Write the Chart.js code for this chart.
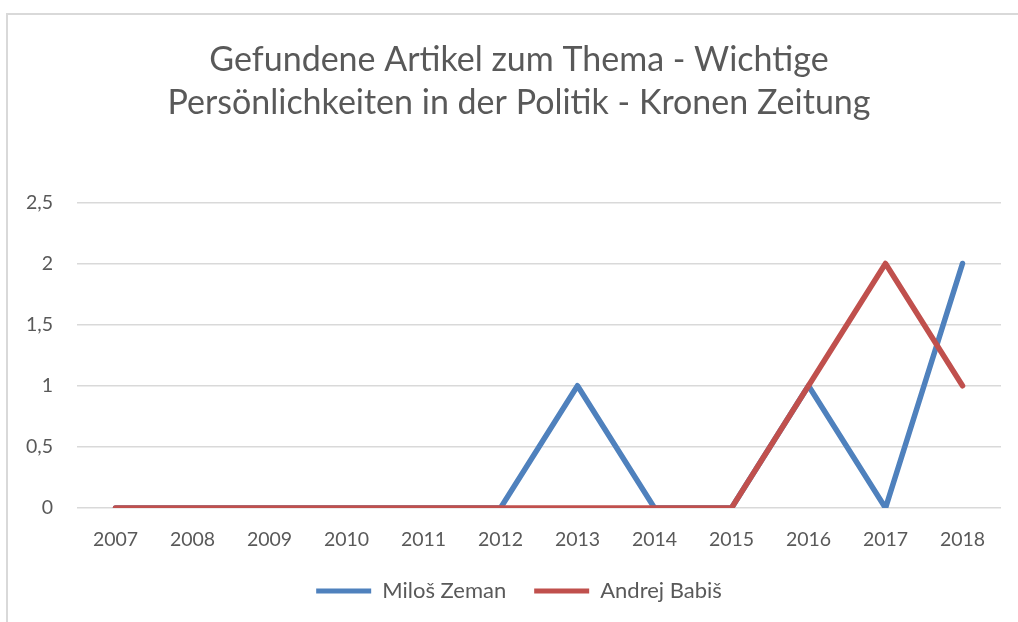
<!DOCTYPE html>
<html><head><meta charset="utf-8">
<script src="https://cdn.jsdelivr.net/npm/chart.js@4"></script>
<style>html,body{margin:0;padding:0;background:#fff;}#wrap{width:1018px;height:622px;position:relative;}</style>
</head><body><div id="wrap"><canvas id="c" width="1018" height="622"></canvas></div>
<script>
const categories = ['2007','2008','2009','2010','2011','2012','2013','2014','2015','2016','2017','2018'];
const zemanValues = [0,0,0,0,0,0,1,0,0,1,0,2];
const babisValues = [0,0,0,0,0,0,0,0,0,1,2,1];
const seriesNames = ['Miloš Zeman','Andrej Babiš'];
const titleLines = ['Gefundene Artikel zum Thema - Wichtige','Persönlichkeiten in der Politik - Kronen Zeitung'];

const FONT = 'Lato, "Open Sans", sans-serif';
const borderPlugin = {
  id:'frame',
  afterLayout(chart){
    // let y tick labels extend left of the layout padding without clipping
    chart.scales.y.left = 0;
  },
  beforeDraw(chart){
    const ctx = chart.ctx;
    ctx.save();
    ctx.fillStyle='#fff';
    ctx.fillRect(0,0,chart.width,chart.height);
    ctx.strokeStyle='#d9d9d9';
    ctx.lineWidth=2;
    ctx.beginPath();
    ctx.moveTo(7,chart.height+5);
    ctx.lineTo(7,14);
    ctx.lineTo(chart.width+5,14);
    ctx.stroke();
    ctx.restore();
  }
};

new Chart(document.getElementById('c'),{
  type:'line',
  data:{
    labels:categories,
    datasets:[
      {label:seriesNames[0],data:zemanValues,order:1,borderColor:'#4f81bd',backgroundColor:'#4f81bd',borderWidth:5.5,pointRadius:0,tension:0,borderCapStyle:'round',borderJoinStyle:'round'},
      {label:seriesNames[1],data:babisValues,order:0,borderColor:'#c0504d',backgroundColor:'#c0504d',borderWidth:5.5,pointRadius:0,tension:0,borderCapStyle:'round',borderJoinStyle:'round'}
    ]
  },
  options:{
    responsive:false,
    animation:false,
    layout:{padding:{left:37,right:17,top:20,bottom:10}},
    plugins:{
      title:{display:true,text:titleLines,color:'#595959',font:{family:FONT,size:34,weight:'normal',lineHeight:1.27},padding:{top:18,bottom:78}},
      legend:{position:'bottom',labels:{color:'#595959',font:{family:FONT,size:22},boxWidth:55,boxHeight:5,padding:28,
        generateLabels(chart){return chart.data.datasets.map((d,i)=>({text:d.label,fillStyle:d.borderColor,strokeStyle:d.borderColor,lineWidth:0,fontColor:'#595959',datasetIndex:i}));}}},
      tooltip:{enabled:false}
    },
    scales:{
      x:{offset:true,grid:{display:false},border:{display:false},ticks:{color:'#595959',font:{family:FONT,size:19.5},padding:12},afterFit(s){s.height=44;}},
      y:{min:0,max:2.5,grid:{color:'#d9d9d9',lineWidth:1.5,drawTicks:false},border:{display:false},afterFit(s){s.width=40;},
        ticks:{stepSize:0.5,color:'#595959',font:{family:FONT,size:19.5},padding:24,callback:v=>String(v).replace('.',',')}}
    }
  },
  plugins:[borderPlugin]
});
</script></body></html>
